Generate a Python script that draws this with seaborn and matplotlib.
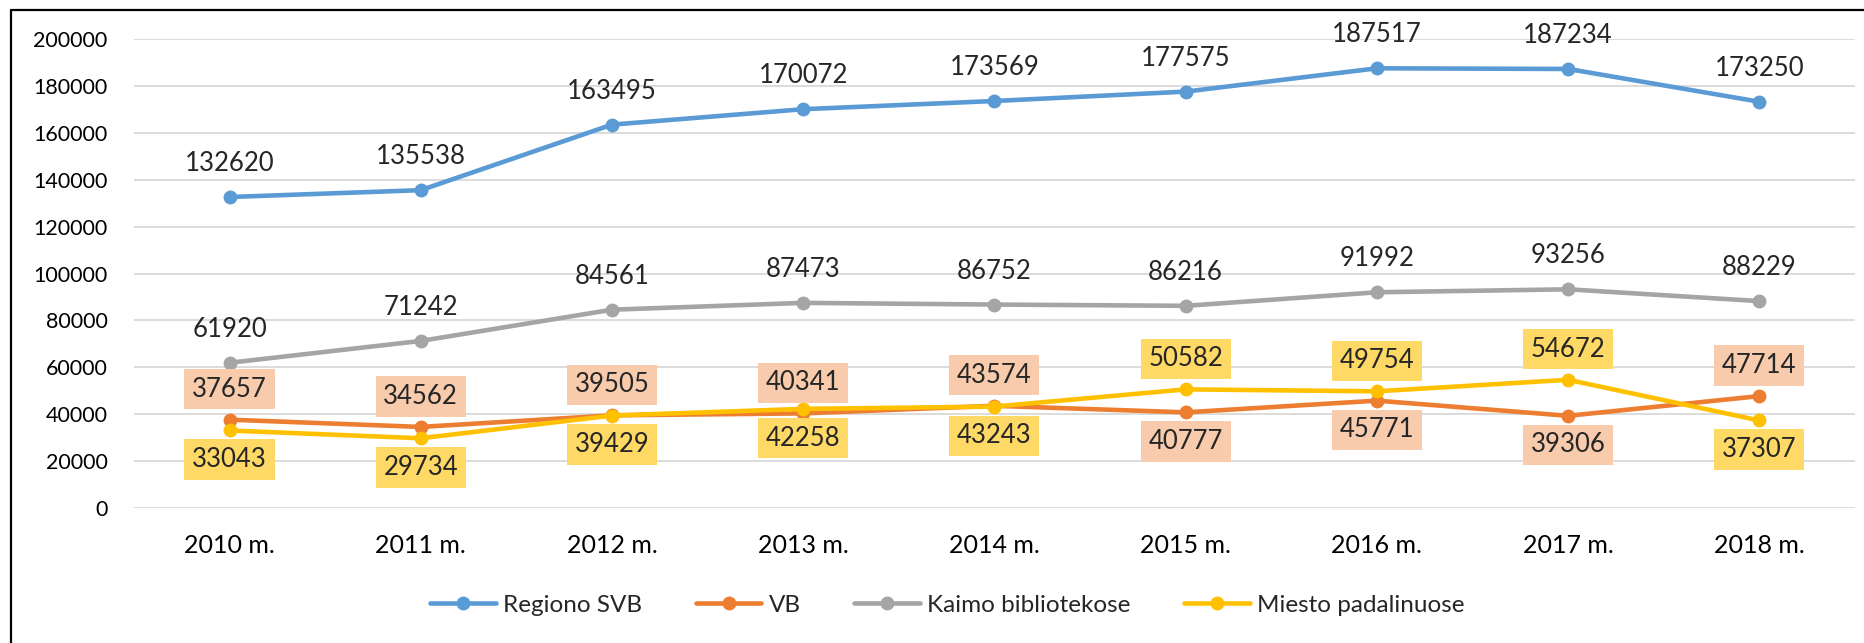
import pandas as pd
import numpy as np
import matplotlib
matplotlib.use('Agg')
from matplotlib import pyplot as plt
from matplotlib.lines import Line2D
import seaborn as sns

# chart data
years = ['2010 m.', '2011 m.', '2012 m.', '2013 m.', '2014 m.', '2015 m.', '2016 m.', '2017 m.', '2018 m.']
regiono_svb = [132620, 135538, 163495, 170072, 173569, 177575, 187517, 187234, 173250]
vb = [37657, 34562, 39505, 40341, 43574, 40777, 45771, 39306, 47714]
kaimo = [61920, 71242, 84561, 87473, 86752, 86216, 91992, 93256, 88229]
miesto = [33043, 29734, 39429, 42258, 43243, 50582, 49754, 54672, 37307]
series_names = ['Regiono SVB', 'VB', 'Kaimo bibliotekose', 'Miesto padalinuose']
colors = ['#5B9BD5', '#ED7D31', '#A5A5A5', '#FFC000']
box_colors = [None, '#F8CBAD', None, '#FFD966']
# VB label above the point? (Miesto label goes the other way)
vb_above = [True, True, True, True, True, False, False, False, True]

sns.set_style('white')
plt.rcParams['font.family'] = ['Lato', 'DejaVu Sans']

df = pd.DataFrame({
    'year': years * 4,
    'value': regiono_svb + vb + kaimo + miesto,
    'series': sum([[s] * len(years) for s in series_names], []),
})

fig = plt.figure(figsize=(18.65, 6.43), dpi=100)
ax = fig.add_axes([0.0718, 0.21, 0.9228, 0.7293])

sns.lineplot(data=df, x='year', y='value', hue='series', hue_order=series_names,
             palette=colors, marker='o', markersize=10, markeredgewidth=0,
             linewidth=3.3, ax=ax, legend=False, sort=False)

ax.set_xlim(-0.5, 8.5)
ax.set_ylim(0, 200000)
ax.set_yticks(np.arange(0, 200001, 20000))
ax.yaxis.grid(True, color='#D9D9D9', linewidth=1.3)
ax.set_axisbelow(True)
for s in ax.spines.values():
    s.set_visible(False)
ax.tick_params(axis='both', length=0, colors='black')
ax.tick_params(axis='y', pad=19, labelsize=15.5)
ax.tick_params(axis='x', pad=19, labelsize=18)
ax.set_xlabel('')
ax.set_ylabel('')

# data labels
all_vals = [regiono_svb, vb, kaimo, miesto]
for k, vals in enumerate(all_vals):
    for i, v in enumerate(vals):
        if k in (0, 2):
            ax.annotate(str(v), (i, v), xytext=(0, 24), textcoords='offset points',
                        ha='center', va='center', fontsize=18.5)
        else:
            up = vb_above[i] if k == 1 else not vb_above[i]
            dy = 22 if up else -21
            ax.annotate(str(v), (i, v), xytext=(0, dy), textcoords='offset points',
                        ha='center', va='center', fontsize=18.5,
                        bbox=dict(boxstyle='square,pad=0.3', fc=box_colors[k], ec='none'))

handles = [Line2D([0], [0], color=c, linewidth=3.3, marker='o', markersize=10,
                  markeredgewidth=0) for c in colors]
fig.legend(handles, series_names, loc='center', bbox_to_anchor=(0.508, 0.059),
           ncol=4, frameon=False, fontsize=17.5, handlelength=2.7,
           columnspacing=2.2, handletextpad=0.3)

# outer frame (left and top edges)
fig.add_artist(Line2D([11 / 1865, 11 / 1865], [0, 1 - 10 / 643], color='black',
                      linewidth=1.6, transform=fig.transFigure))
fig.add_artist(Line2D([11 / 1865, 1], [1 - 10 / 643, 1 - 10 / 643], color='black',
                      linewidth=1.6, transform=fig.transFigure))

fig.savefig('out.png', dpi=100)
